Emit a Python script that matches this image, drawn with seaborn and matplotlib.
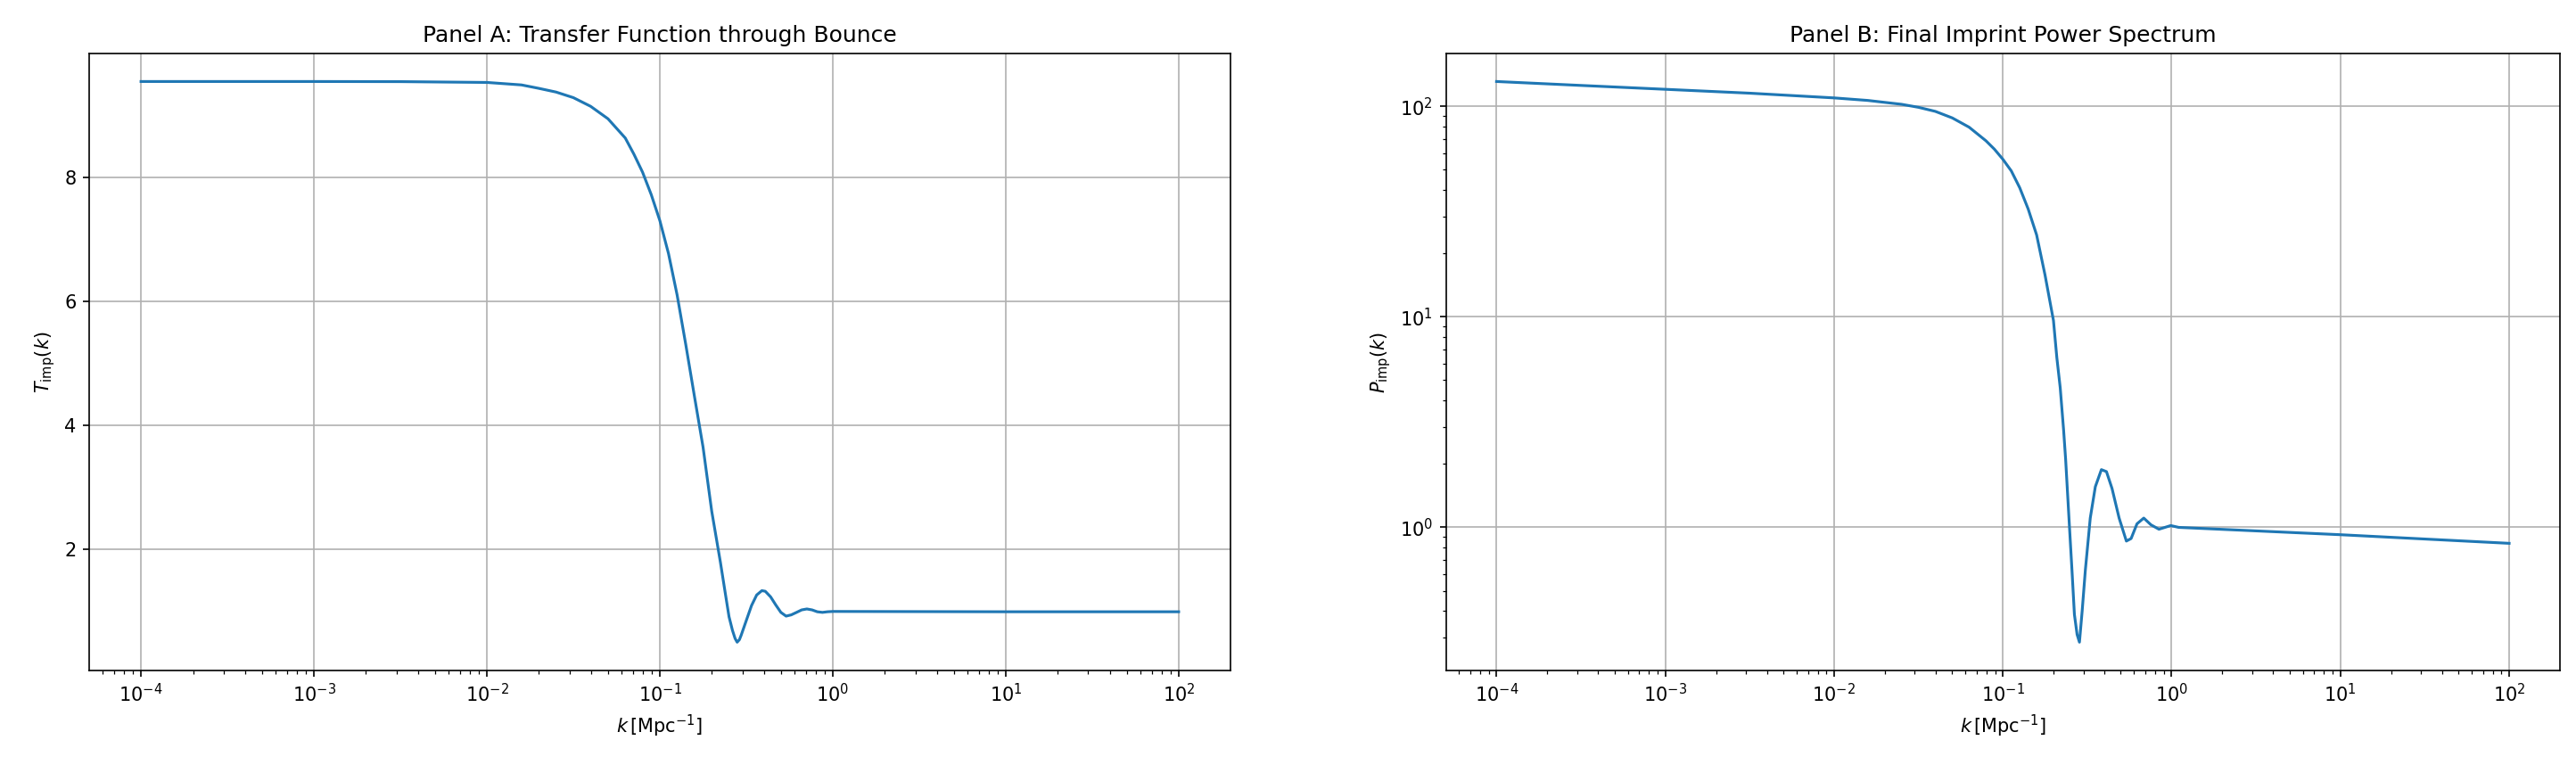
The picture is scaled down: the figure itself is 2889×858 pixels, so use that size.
import matplotlib
matplotlib.use("Agg")
import matplotlib.pyplot as plt
import seaborn as sns

# ---- data ----
# Panel A: transfer function T_imp(k)
k_a = [1.0e-4, 3.162e-4, 1.0e-3, 3.162e-3, 0.01, 0.01585, 0.01995, 0.02512,
       0.03162, 0.03981, 0.05012, 0.0631, 0.07079, 0.07943, 0.08913, 0.1,
       0.1122, 0.1259, 0.1413, 0.1585, 0.1778, 0.1995, 0.2239, 0.2399, 0.2512,
       0.263, 0.2723, 0.2799, 0.2884, 0.2951, 0.3162, 0.339, 0.363, 0.389,
       0.407, 0.437, 0.468, 0.501, 0.537, 0.575, 0.617, 0.661, 0.708, 0.759,
       0.813, 0.871, 0.933, 1.0, 10.0, 100.0]
t_imp = [9.54, 9.54, 9.54, 9.538, 9.525, 9.485, 9.43, 9.37,
         9.28, 9.14, 8.94, 8.63, 8.37, 8.08, 7.72, 7.30,
         6.77, 6.10, 5.30, 4.47, 3.65, 2.62, 1.80, 1.27, 0.92,
         0.70, 0.57, 0.51, 0.55, 0.62, 0.86, 1.10, 1.27, 1.34,
         1.33, 1.24, 1.11, 0.99, 0.93, 0.95, 0.99, 1.03, 1.045, 1.03,
         1.00, 0.99, 1.00, 1.005, 1.00, 1.00]

# Panel B: final imprint power spectrum P_imp(k)
k_b = [1.0e-4, 3.162e-4, 1.0e-3, 3.162e-3, 0.01, 0.01585, 0.02512, 0.03162,
       0.03981, 0.05012, 0.0631, 0.07943, 0.08913, 0.1, 0.1122, 0.1259,
       0.1413, 0.1585, 0.1778, 0.1995, 0.2089, 0.2188, 0.2291, 0.2355, 0.2483,
       0.2570, 0.2655, 0.2754, 0.2844, 0.2951, 0.3083, 0.3296, 0.3532, 0.3837,
       0.4111, 0.4436, 0.4887, 0.5395, 0.5754, 0.6237, 0.6839, 0.7551, 0.8414,
       0.9886, 1.102, 10.0, 100.0]
p_imp = [131.0, 125.5, 120.3, 115.3, 109.5, 106.5, 102.1, 98.8,
         94.5, 88.0, 79.5, 68.5, 62.5, 56.0, 49.3, 41.0,
         32.5, 24.5, 15.8, 9.6, 6.4, 4.6, 2.9, 2.11, 1.00,
         0.62, 0.386, 0.31, 0.285, 0.40, 0.628, 1.107, 1.56, 1.88,
         1.84, 1.53, 1.107, 0.861, 0.885, 1.04, 1.107, 1.028, 0.98,
         1.02, 1.00, 0.923, 0.840]

LINE_COLOR = "#1f77b4"
XLABEL = r"$k\,[\mathrm{Mpc}^{-1}]$"

fig = plt.figure(figsize=(2889 / 150, 858 / 150), dpi=150)
ax_a = fig.add_axes([0.0346, 0.1239, 0.4431, 0.8062])
ax_b = fig.add_axes([0.5613, 0.1239, 0.4324, 0.8062])

# ---- Panel A ----
sns.lineplot(x=k_a, y=t_imp, ax=ax_a, color=LINE_COLOR, linewidth=1.5)
ax_a.set_xscale("log")
ax_a.set_title("Panel A: Transfer Function through Bounce")
ax_a.set_xlabel(XLABEL)
ax_a.set_ylabel(r"$T_{\rm imp}(k)$")
ax_a.grid(True)

# ---- Panel B ----
sns.lineplot(x=k_b, y=p_imp, ax=ax_b, color=LINE_COLOR, linewidth=1.5)
ax_b.set_xscale("log")
ax_b.set_yscale("log")
ax_b.set_title("Panel B: Final Imprint Power Spectrum")
ax_b.set_xlabel(XLABEL)
ax_b.set_ylabel(r"$P_{\rm imp}(k)$")
ax_b.grid(True)

fig.savefig("out.png", dpi=150)
